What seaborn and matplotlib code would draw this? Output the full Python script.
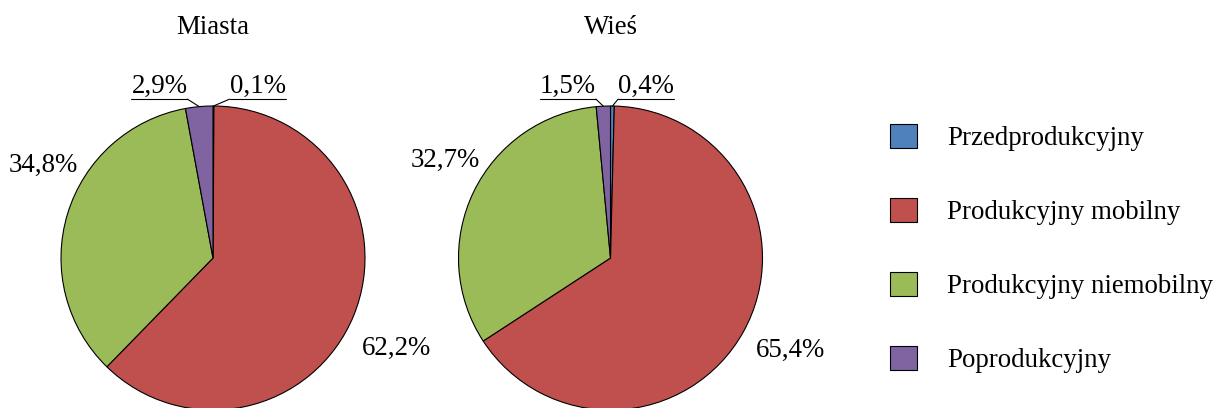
import numpy as np
import seaborn as sns
import matplotlib.pyplot as plt
from matplotlib.patches import Patch

# data
categories = ["Przedprodukcyjny", "Produkcyjny mobilny", "Produkcyjny niemobilny", "Poprodukcyjny"]
miasta = [0.1, 62.2, 34.8, 2.9]
wies = [0.4, 65.4, 32.7, 1.5]
titles = ["Miasta", "Wieś"]

colors = ["#4F81BD", "#C0504D", "#9BBB59", "#8064A2"]

sns.set_theme(style="white")
plt.rcParams['font.family'] = ['Liberation Serif', 'DejaVu Serif']
plt.rcParams['text.color'] = 'black'
FS = 19.4

W, H = 1219, 408
fig = plt.figure(figsize=(W / 100, H / 100), dpi=100)

R = 152.0  # pie radius in px


def set_frame(ax, cy):
    # 1 data unit = R px in both directions
    ax.set_aspect("auto")
    ax.set_xlim(-200 / R, 200 / R)
    ax.set_ylim(-(H - cy) / R, cy / R)
    ax.axis("off")


# label positions (x, y) in pie units for each slice
big_pos = {
    "Miasta": {1: (1.204, -0.592), 2: (-1.118, 0.612)},
    "Wieś": {1: (1.184, -0.605), 2: (-1.086, 0.645)},
}
small_pos = {
    "Miasta": {3: (-0.352, 1.085), 0: (0.293, 1.085)},
    "Wieś": {3: (-0.28, 1.085), 0: (0.234, 1.085)},
}

centers = [(213, 258), (610.5, 258)]
for (cx, cy), title, vals in zip(centers, titles, [miasta, wies]):
    ax = fig.add_axes([(cx - 200) / W, 0, 400 / W, 1])
    wedges, _ = ax.pie(vals, colors=colors, startangle=90, counterclock=False,
                       radius=1, wedgeprops=dict(edgecolor="black", linewidth=0.8))
    set_frame(ax, cy)
    ax.text(0, (cy - 28) / R, title, ha="center", va="center", fontsize=FS)
    for i, (x, y) in big_pos[title].items():
        ax.text(x, y, f"{vals[i]:.1f}%".replace(".", ","), ha="center", va="center", fontsize=FS)
    for i, (x, y) in small_pos[title].items():
        t = ax.text(x, y, f"{vals[i]:.1f}%".replace(".", ","), ha="center", va="baseline", fontsize=FS)
        fig.canvas.draw()
        bb = t.get_window_extent().transformed(ax.transData.inverted())
        uy = y - 0.04
        ax.plot([bb.x0, bb.x1], [uy, uy], color="black", lw=0.8)
        w = wedges[i]
        ang = np.deg2rad((w.theta1 + w.theta2) / 2)
        px, py = np.cos(ang), np.sin(ang)
        ex = bb.x1 if x < 0 else bb.x0
        ax.plot([ex, px], [uy, py], color="black", lw=0.8)

handles = [Patch(facecolor=c, edgecolor="black", linewidth=0.8) for c in colors]
fig.legend(handles, categories, loc="center left", bbox_to_anchor=(866 / W, 0.39),
           frameon=False, fontsize=FS, handlelength=1.0, handleheight=0.95,
           handletextpad=1.1, labelspacing=1.75)

fig.savefig("out.png", dpi=100)
